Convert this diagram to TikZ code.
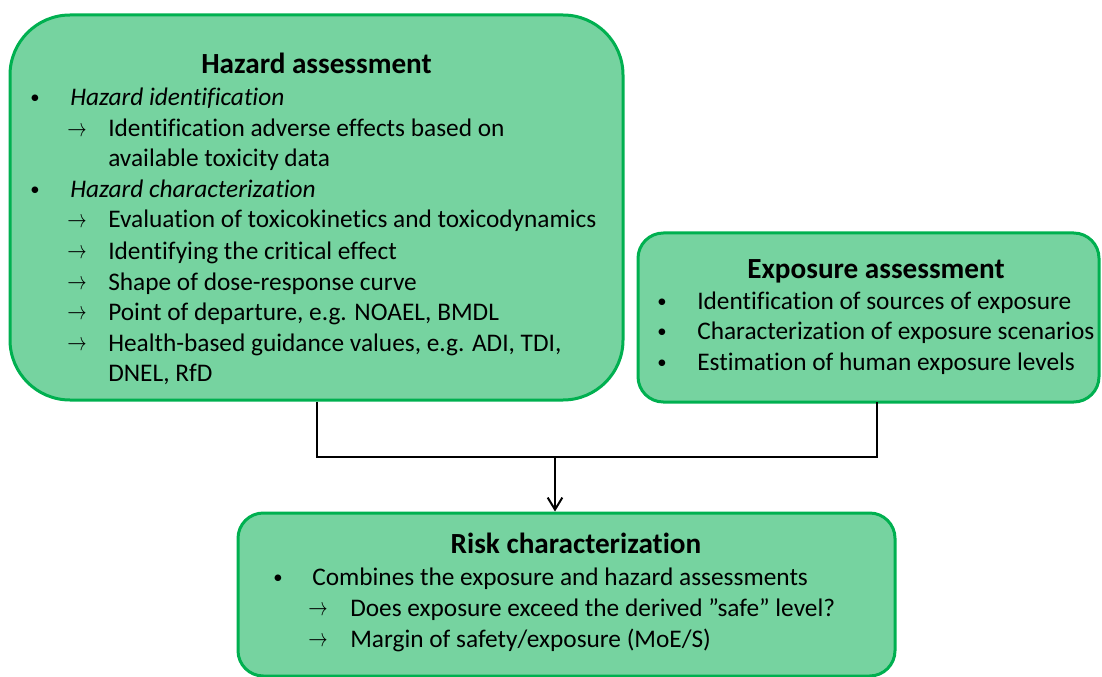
\documentclass[tikz,border=0pt]{standalone}
\usepackage{graphicx}
\usepackage{fontspec}
\setmainfont[Ligatures=NoCommon]{Carlito}
\usetikzlibrary{arrows.meta}
\definecolor{boxfill}{RGB}{118,211,160}
\definecolor{boxline}{RGB}{0,176,80}
\newcommand{\myarr}{\smash{\scalebox{1.45}[1.9]{$\rightarrow$}}}
\tikzset{
  box/.style={draw=boxline, fill=boxfill, line width=2.25pt, inner sep=0pt},
  txt/.style={anchor=base west, inner sep=0pt, font=\fontsize{19}{23}\selectfont},
  bul/.style={anchor=base west, inner sep=0pt, font=\fontsize{14}{23}\selectfont},
  ttl/.style={anchor=base, inner sep=0pt, font=\fontsize{21.9}{25}\selectfont\bfseries},
  arr/.style={anchor=base west, inner sep=0pt},
  conn/.style={line width=1.5pt, draw=black}
}
\begin{document}
\begin{tikzpicture}[x=0.75pt,y=-0.75pt]
\useasboundingbox (0,0) rectangle (1102,677);
% boxes
\node[box, rounded corners=45pt, minimum width=613*0.75pt, minimum height=385*0.75pt] (haz) at (316.5,207.5) {};
\node[box, rounded corners=19pt, minimum width=461*0.75pt, minimum height=169*0.75pt] (exp) at (868.5,317.5) {};
\node[box, rounded corners=19pt, minimum width=657*0.75pt, minimum height=163*0.75pt] (risk) at (566.5,594.5) {};
% hazard text
\node[ttl] (hazt) at (316.5,74) {Hazard assessment};
\node[bul] (hb1) at (30,104) {•};
\node[txt] (hl1) at (70,106) {\itshape Hazard identification};
\node[arr] (ha1) at (67,136.5) {\myarr};
\node[txt] (hl2) at (108,137) {Identification adverse effects based on};
\node[txt] (hl3) at (108,167) {available toxicity data};
\node[bul] (hb2) at (30,196) {•};
\node[txt] (hl4) at (70,198) {\itshape Hazard characterization};
\node[arr] (ha2) at (67,227.5) {\myarr};
\node[txt] (hl5) at (108,228) {Evaluation of toxicokinetics and toxicodynamics};
\node[arr] (ha3) at (67,258.5) {\myarr};
\node[txt] (hl6) at (108,259) {Identifying the critical effect};
\node[arr] (ha4) at (67,289.5) {\myarr};
\node[txt] (hl7) at (108,290) {Shape of dose-response curve};
\node[arr] (ha5) at (67,319.5) {\myarr};
\node[txt] (hl8) at (108,320) {Point of departure, e.g. NOAEL, BMDL};
\node[arr] (ha6) at (67,350.5) {\myarr};
\node[txt] (hl9) at (108,351) {Health-based guidance values, e.g. ADI, TDI,};
\node[txt] (hl10) at (108,381) {DNEL, RfD};
% exposure text
\node[ttl] (expt) at (876,278) {Exposure assessment};
\node[bul] (eb1) at (657,307) {•};
\node[txt] (el1) at (697,309) {Identification of sources of exposure};
\node[bul] (eb2) at (657,337) {•};
\node[txt] (el2) at (697,339) {Characterization of exposure scenarios};
\node[bul] (eb3) at (657,368) {•};
\node[txt] (el3) at (697,370) {Estimation of human exposure levels};
% risk text
\node[ttl] (riskt) at (576,553) {Risk characterization};
\node[bul] (rb1) at (273,583) {•};
\node[txt] (rl1) at (312,585) {Combines the exposure and hazard assessments};
\node[arr] (ra1) at (308,615.5) {\myarr};
\node[txt] (rl2) at (350,616) {Does exposure exceed the derived ”safe” level?};
\node[arr] (ra2) at (308,646.5) {\myarr};
\node[txt] (rl3) at (350,647) {Margin of safety/exposure (MoE/S)};
% connectors
\coordinate (mid) at (555,457);
\coordinate (expdrop) at (877,402);
\draw[conn] (haz.south) |- (mid) -| (expdrop);
\draw[conn, -{Straight Barb[length=9pt,width=11pt]}] (mid) -- (mid |- risk.north);
\end{tikzpicture}
\end{document}
